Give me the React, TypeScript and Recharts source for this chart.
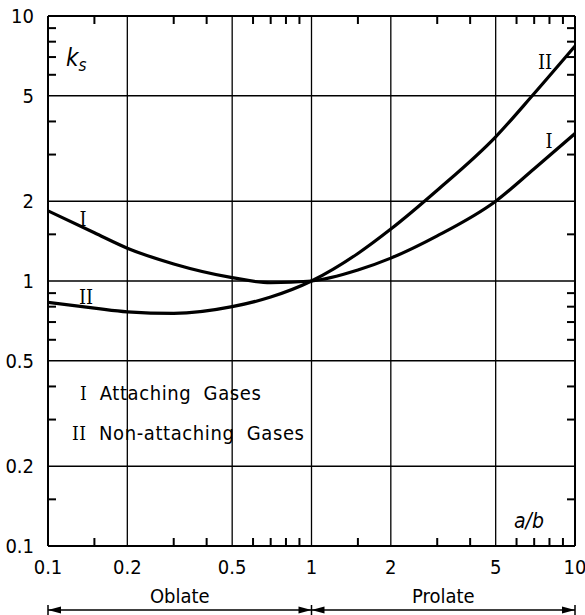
import React from 'react';
import {
  LineChart,
  Line,
  XAxis,
  YAxis,
  CartesianGrid,
  ReferenceDot,
  ReferenceLine,
} from 'recharts';

// a/b ratio sampled along the curves
const AB = [0.1, 0.15, 0.2, 0.3, 0.5, 0.7, 1, 1.5, 2, 3, 5, 7, 10];
// I  Attaching gases
const KS_ATTACHING = [1.84, 1.52, 1.33, 1.16, 1.03, 0.985, 1.0, 1.1, 1.22, 1.48, 2.0, 2.65, 3.6];
// II Non-attaching gases
const KS_NON_ATTACHING = [0.83, 0.79, 0.765, 0.755, 0.8, 0.87, 1.0, 1.27, 1.57, 2.2, 3.5, 5.1, 7.7];

const MAJOR_TICKS = [0.1, 0.2, 0.5, 1, 2, 5, 10];
const MINOR_TICKS = [0.15, 0.3, 0.4, 0.6, 0.7, 0.8, 0.9, 1.5, 3, 4, 6, 7, 8, 9];
const REGION_BOUNDS = [0.1, 1, 10];
const REGION_NAMES = ['Oblate', 'Prolate'];

const DOMAIN: [number, number] = [0.1, 10];
const LO = DOMAIN[0];
const HI = DOMAIN[1];
const FONT = "'DejaVu Sans Condensed', 'DejaVu Sans', sans-serif";
const SERIF = "'DejaVu Serif', 'Liberation Serif', serif";

const MINOR_LEN = 8;

const data = AB.map((x, i) => ({
  x,
  attaching: KS_ATTACHING[i],
  nonAttaching: KS_NON_ATTACHING[i],
}));

const regionCenters = REGION_NAMES.map((_, i) =>
  Math.sqrt(REGION_BOUNDS[i] * REGION_BOUNDS[i + 1])
);
const regionTicks = [...REGION_BOUNDS, ...regionCenters].sort((a, b) => a - b);

// short inward tick drawn at a reference point; dx/dy = direction into the plot
const inwardTick = (dx: number, dy: number) => (p: any) => (
  <line
    x1={p.cx}
    y1={p.cy}
    x2={p.cx + dx * MINOR_LEN}
    y2={p.cy + dy * MINOR_LEN}
    stroke="#000"
    strokeWidth={2}
  />
);

const RegionTick = ({ x, y, payload }: any) => {
  const v = payload.value;
  const idx = regionCenters.findIndex(c => Math.abs(c - v) < 1e-6);
  if (idx >= 0) {
    return (
      <text x={x} y={y - 7} textAnchor="middle" fontFamily={FONT} fontSize={20} fill="#000">
        {REGION_NAMES[idx]}
      </text>
    );
  }
  const first = v === REGION_BOUNDS[0];
  const last = v === REGION_BOUNDS[REGION_BOUNDS.length - 1];
  return (
    <g>
      <line x1={x} x2={x} y1={y - 5} y2={y + 5} stroke="#000" strokeWidth={1.5} />
      {!first && <path d={`M${x},${y} l-13,-3.5 l0,7 z`} fill="#000" />}
      {!last && <path d={`M${x},${y} l13,-3.5 l0,7 z`} fill="#000" />}
    </g>
  );
};

const logAxis = {
  type: 'number' as const,
  scale: 'log' as const,
  domain: DOMAIN,
  allowDataOverflow: true,
  interval: 0 as const,
};

const tickFont = { fill: '#000', fontFamily: FONT, fontSize: 20 };

export default function App() {
  return (
    <div style={{ position: 'absolute', left: 0, top: 0, background: '#fff' }}>
      <style>{'svg text { font-stretch: condensed; }'}</style>
      <LineChart
        width={585}
        height={615}
        data={data}
        margin={{ top: 16, right: 10, left: 8, bottom: 0 }}
      >
        <CartesianGrid stroke="#000" strokeWidth={1.3} horizontalValues={MAJOR_TICKS} verticalValues={MAJOR_TICKS} />
        <XAxis
          {...logAxis}
          dataKey="x"
          ticks={MAJOR_TICKS}
          tickFormatter={String}
          height={64}
          tickSize={0}
          tickMargin={14}
          tickLine={false}
          axisLine={{ stroke: '#000', strokeWidth: 2 }}
          tick={tickFont}
        />
        <XAxis
          {...logAxis}
          xAxisId="region"
          dataKey="x"
          ticks={regionTicks}
          height={5}
          tickSize={0}
          tickMargin={0}
          tickLine={false}
          axisLine={{ stroke: '#000', strokeWidth: 1.3 }}
          tick={<RegionTick />}
        />
        <YAxis
          {...logAxis}
          ticks={MAJOR_TICKS}
          tickFormatter={String}
          width={40}
          tickSize={0}
          tickMargin={14}
          tickLine={false}
          axisLine={{ stroke: '#000', strokeWidth: 2 }}
          tick={tickFont}
        />

        {/* frame on the top and right */}
        <ReferenceLine y={HI} stroke="#000" strokeWidth={2} ifOverflow="visible" />
        <ReferenceLine x={HI} stroke="#000" strokeWidth={2} ifOverflow="visible" />

        {/* minor ticks on all four sides, pointing inward */}
        {MINOR_TICKS.map(v => (
          <ReferenceDot key={`b${v}`} x={v} y={LO} ifOverflow="visible" shape={inwardTick(0, -1)} />
        ))}
        {MINOR_TICKS.map(v => (
          <ReferenceDot key={`t${v}`} x={v} y={HI} ifOverflow="visible" shape={inwardTick(0, 1)} />
        ))}
        {MINOR_TICKS.map(v => (
          <ReferenceDot key={`l${v}`} x={LO} y={v} ifOverflow="visible" shape={inwardTick(1, 0)} />
        ))}
        {MINOR_TICKS.map(v => (
          <ReferenceDot key={`r${v}`} x={HI} y={v} ifOverflow="visible" shape={inwardTick(-1, 0)} />
        ))}

        {/* invisible series so the region axis gets its scale */}
        <Line
          xAxisId="region"
          dataKey="attaching"
          stroke="none"
          dot={false}
          activeDot={false}
          legendType="none"
          isAnimationActive={false}
        />

        <Line
          dataKey="attaching"
          type="monotone"
          stroke="#000"
          strokeWidth={3.2}
          dot={false}
          isAnimationActive={false}
        />
        <Line
          dataKey="nonAttaching"
          type="monotone"
          stroke="#000"
          strokeWidth={3.2}
          dot={false}
          isAnimationActive={false}
        />

        {/* axis titles */}
        <text x={66} y={66} fontFamily={FONT} fontSize={24} fontStyle="italic" fill="#000">
          k<tspan fontSize={17} dy={5}>s</tspan>
        </text>
        <text x={514} y={528} fontFamily={FONT} fontSize={21} fontStyle="italic" fill="#000">
          a/b
        </text>

        {/* curve labels */}
        <text x={83} y={226} textAnchor="middle" fontFamily={SERIF} fontSize={20} fill="#000">I</text>
        <text x={86} y={304} textAnchor="middle" fontFamily={SERIF} fontSize={20} fill="#000">II</text>
        <text x={545} y={69} textAnchor="middle" fontFamily={SERIF} fontSize={20} fill="#000">II</text>
        <text x={549} y={148} textAnchor="middle" fontFamily={SERIF} fontSize={20} fill="#000">I</text>

        {/* legend */}
        <text x={80} y={400} fontFamily={FONT} fontSize={20} fill="#000" wordSpacing={6} letterSpacing={0.6}>
          <tspan fontFamily={SERIF} fontSize={19}>I</tspan> Attaching Gases
        </text>
        <text x={72} y={440} fontFamily={FONT} fontSize={20} fill="#000" wordSpacing={6} letterSpacing={0.6}>
          <tspan fontFamily={SERIF} fontSize={19}>II</tspan> Non-attaching Gases
        </text>
      </LineChart>
    </div>
  );
}
